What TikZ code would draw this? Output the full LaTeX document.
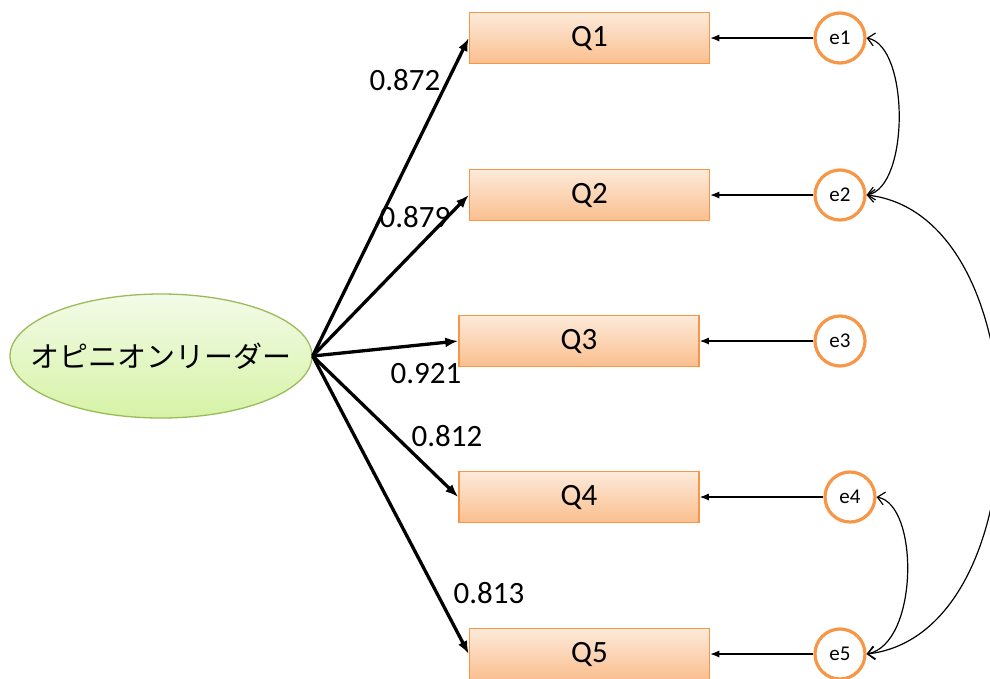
\documentclass[tikz,border=0pt]{standalone}
\usepackage{fontspec}
\setmainfont{Carlito}
\newfontfamily\jpfont{Noto Sans CJK JP}
\usepackage{tikz}
\usetikzlibrary{arrows.meta,shapes.geometric}
\definecolor{boxline}{RGB}{247,150,70}
\definecolor{boxtop}{RGB}{253,234,218}
\definecolor{boxbot}{RGB}{250,191,143}
\definecolor{ovalline}{RGB}{155,187,89}
\definecolor{ovaltop}{RGB}{243,251,232}
\definecolor{ovalbot}{RGB}{214,243,166}
\begin{document}
\begin{tikzpicture}[x=1pt,y=1pt,
  item/.style={draw=boxline,line width=1.5pt,top color=boxtop,bottom color=boxbot,
    minimum width=240pt,minimum height=51pt,inner sep=0pt,font=\fontsize{31}{31}\selectfont},
  err/.style={circle,draw=boxline,line width=3.2pt,fill=white,minimum size=50pt,
    inner sep=0pt,font=\fontsize{21}{21}\selectfont},
  factor/.style={ellipse,draw=ovalline,line width=1.3pt,top color=ovaltop,bottom color=ovalbot,
    minimum width=302pt,minimum height=124pt,inner xsep=-60pt,inner ysep=0pt,
    font=\jpfont\fontsize{29}{29}\selectfont},
  load/.style={line width=3.3pt,-{Latex[length=13pt,width=10pt]}},
  resid/.style={line width=1.2pt,-{Latex[length=9pt,width=7pt]}},
  covar/.style={line width=1.2pt,{Straight Barb[length=7pt,width=13pt]}-{Straight Barb[length=7pt,width=13pt]}},
  coef/.style={inner sep=0pt,font=\fontsize{31}{31}\selectfont}]
\useasboundingbox (0,0) rectangle (990,-678);
\node[factor] (ol) at (161,-356) {オピニオンリーダー};
\node[item] (q1) at (589.5,-38) {Q1};
\node[item] (q2) at (589.5,-195) {Q2};
\node[item] (q3) at (579,-341) {Q3};
\node[item] (q4) at (579,-497) {Q4};
\node[item] (q5) at (589.5,-654) {Q5};
\node[err] (e1) at (840,-38) {e1};
\node[err] (e2) at (840,-195) {e2};
\node[err] (e3) at (840,-341) {e3};
\node[err] (e4) at (850,-497) {e4};
\node[err] (e5) at (840,-654) {e5};
\draw[load] (ol.east) -- (q1.west);
\draw[load] (ol.east) -- (q2.west);
\draw[load] (ol.east) -- (q3.west);
\draw[load] (ol.east) -- (q4.west);
\draw[load] (ol.east) -- (q5.west);
\node[coef] (l1) at (405,-80) {0.872};
\node[coef] (l2) at (415,-217) {0.879};
\node[coef] (l3) at (426,-374) {0.921};
\node[coef] (l4) at (447,-436) {0.812};
\node[coef] (l5) at (489,-593) {0.813};
\draw[resid] (e1.west) -- (q1.east);
\draw[resid] (e2.west) -- (q2.east);
\draw[resid] (e3.west) -- (q3.east);
\draw[resid] (e4.west) -- (q4.east);
\draw[resid] (e5.west) -- (q5.east);
\draw[covar] (e1.east) .. controls +(43,-8) and +(43,8) .. (e2.east);
\draw[covar] (e2.east) .. controls +(177,-20) and +(177,20) .. (e5.east);
\draw[covar] (e4.east) .. controls +(43,-8) and +(52,10) .. (e5.east);
\end{tikzpicture}
\end{document}
